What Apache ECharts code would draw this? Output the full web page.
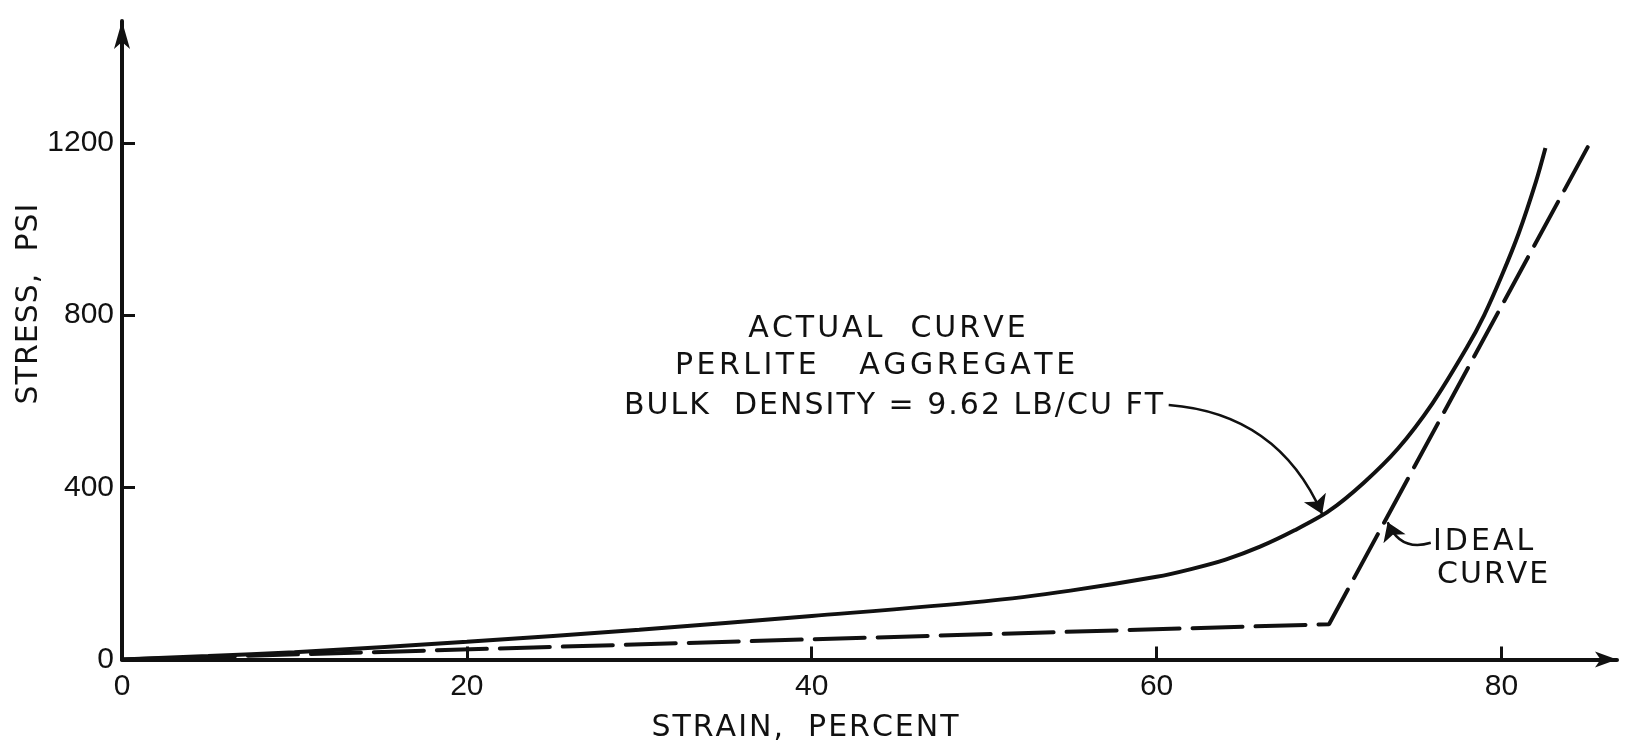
<!DOCTYPE html>
<html>
<head>
<meta charset="utf-8">
<title>Stress-strain, perlite aggregate</title>
<script src="https://cdn.jsdelivr.net/npm/echarts@6/dist/echarts.min.js"></script>
<style>
  html, body { margin: 0; padding: 0; background: #fff; }
  #chart { width: 1631px; height: 751px; }
</style>
</head>
<body>
<div id="chart"></div>
<script>
// strain (%) and stress (psi)
const actualStrain = [0, 5, 10, 20, 30, 40, 50, 55, 60, 62, 64, 66, 68, 70, 72, 74, 76, 78, 79, 80, 81, 82, 82.55];
const actualStress = [0, 8, 17, 41, 69, 101, 135, 160, 192, 210, 232, 262, 300, 345, 410, 490, 595, 725, 800, 890, 990, 1110, 1188];

const idealStrain = [0, 70, 85];
const idealStress = [0, 82, 1190];

const xTicks = [0, 20, 40, 60, 80];
const yTicks = [0, 400, 800, 1200];

// leader arrows, [from, to] in strain/stress
const actualLeader = [[60.7, 591], [69.6, 338]];
const idealLeader = [[75.9, 271], [73.4, 319]];

const ink = '#111';
const font = '30px "DejaVu Sans"';

const zip = (xs, ys) => xs.map((x, i) => [x, ys[i]]);

// hand lettering is spaced out, zrender has no letter-spacing so lay out chars one by one
const measure = document.createElement('canvas').getContext('2d');
measure.font = font;
function spacedText(text, x, y, align, spacing, rotation) {
  const widths = text.split('').map(ch => measure.measureText(ch).width);
  const total = widths.reduce((a, b) => a + b, 0) + spacing * (text.length - 1);
  let pos = align === 'center' ? -total / 2 : align === 'right' ? -total : 0;
  const children = text.split('').map((ch, i) => {
    const el = {
      type: 'text', x: pos, y: 0,
      style: { text: ch, fill: ink, font: font, verticalAlign: 'middle' }
    };
    pos += widths[i] + spacing;
    return el;
  });
  return { type: 'group', x: x, y: y, rotation: rotation || 0, children: children };
}

const chart = echarts.init(document.getElementById('chart'));

const option = {
  backgroundColor: '#fff',
  animation: false,
  grid: { left: 122, right: 14, top: 21, bottom: 91.5 },
  xAxis: {
    type: 'value',
    min: 0,
    max: 86.7,
    axisLine: {
      onZero: false,
      symbol: ['none', 'arrow'],
      symbolSize: [12, 22],
      lineStyle: { color: ink, width: 4 }
    },
    axisTick: {
      inside: true,
      length: 13,
      customValues: xTicks,
      lineStyle: { color: ink, width: 3 }
    },
    axisLabel: {
      customValues: xTicks,
      formatter: v => String(v),
      margin: 12,
      color: ink,
      fontFamily: 'Liberation Sans',
      fontSize: 30
    },
    splitLine: { show: false }
  },
  yAxis: {
    type: 'value',
    min: 0,
    max: 1483,
    axisLine: {
      show: true,
      onZero: false,
      symbol: ['none', 'arrow'],
      symbolSize: [12, 28],
      lineStyle: { color: ink, width: 4 }
    },
    axisTick: {
      show: true,
      inside: true,
      length: 13,
      customValues: yTicks,
      lineStyle: { color: ink, width: 3 }
    },
    axisLabel: {
      customValues: yTicks,
      formatter: v => String(v),
      margin: 8,
      color: ink,
      fontFamily: 'Liberation Sans',
      fontSize: 30
    },
    splitLine: { show: false }
  },
  series: [
    {
      name: 'Actual curve',
      type: 'line',
      data: zip(actualStrain, actualStress),
      smooth: 0.3,
      showSymbol: false,
      lineStyle: { color: ink, width: 4 }
    },
    {
      name: 'Ideal curve',
      type: 'line',
      data: zip(idealStrain, idealStress),
      showSymbol: false,
      lineStyle: { color: ink, width: 4, type: [50, 13], cap: 'round' }
    },
    {
      type: 'lines',
      coordinateSystem: 'cartesian2d',
      symbol: ['none', 'arrow'],
      symbolSize: [8, 18],
      lineStyle: { color: ink, width: 2.5, curveness: 0.3, opacity: 1 },
      data: [{ coords: actualLeader }]
    },
    {
      type: 'lines',
      coordinateSystem: 'cartesian2d',
      symbol: ['none', 'arrow'],
      symbolSize: [8, 18],
      lineStyle: { color: ink, width: 2.5, curveness: 0.45, opacity: 1 },
      data: [{ coords: idealLeader }]
    }
  ],
  graphic: [
    spacedText('ACTUAL  CURVE', 887, 329, 'center', 3),
    spacedText('PERLITE   AGGREGATE', 875, 366, 'center', 3.5),
    spacedText('BULK  DENSITY = 9.62 LB/CU FT', 1163, 406, 'right', 2),
    spacedText('IDEAL', 1433, 542, 'left', 3),
    spacedText('CURVE', 1437, 575, 'left', 2),
    spacedText('STRAIN,  PERCENT', 805, 728, 'center', 2),
    spacedText('STRESS,  PSI', 29, 304, 'center', 1, Math.PI / 2)
  ]
};

chart.setOption(option);
</script>
</body>
</html>
